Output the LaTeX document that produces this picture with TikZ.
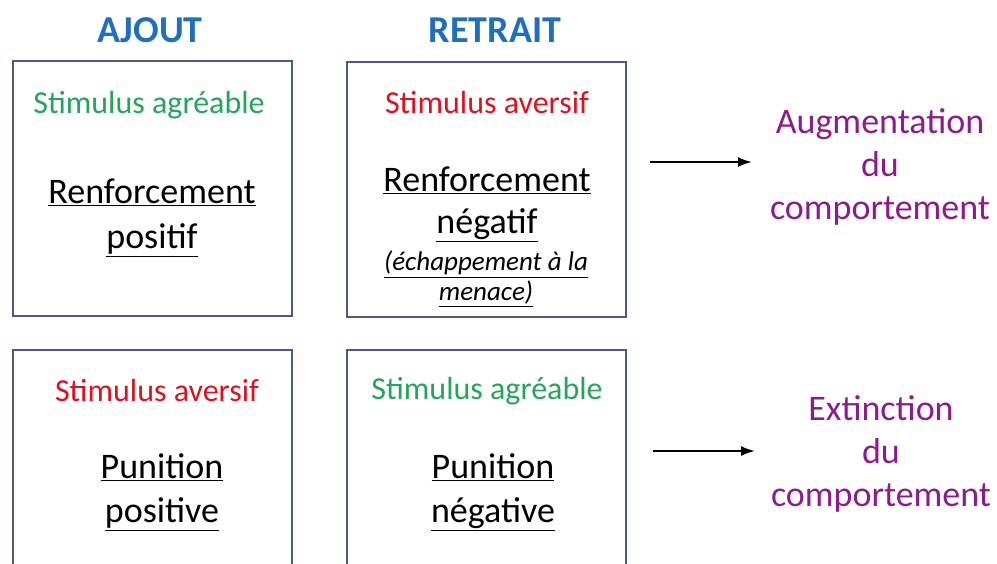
\documentclass[tikz,border=0pt]{standalone}
\usepackage{fontspec}
\usetikzlibrary{arrows.meta}
\setmainfont{Carlito}
\definecolor{titre}{HTML}{1F6FBF}
\definecolor{vert}{HTML}{22A659}
\definecolor{rouge}{HTML}{E0101E}
\definecolor{violet}{HTML}{8E1A8E}
\definecolor{cadre}{HTML}{465A8C}
\tikzset{
    boite/.style={draw=cadre, line width=2pt, minimum width=279pt, minimum height=255pt},
    entete/.style={text=titre, font=\fontsize{38}{44}\bfseries\selectfont},
    stim/.style={font=\fontsize{32}{38}\selectfont},
    type/.style={align=center, font=\fontsize{36}{44}\selectfont},
    effet/.style={align=center, text=violet, font=\fontsize{36}{43}\selectfont},
    fleche/.style={-{Latex[length=14pt, width=10pt]}, line width=2pt}
}
\begin{document}
\begin{tikzpicture}[x=1pt, y=-1pt]
    \useasboundingbox (0, 0) rectangle (997, 564);
    \clip (0, 0) rectangle (997, 564);
    % 先画两个标题
    \node [entete] (ajout)   at (150, 30) {AJOUT};
    \node [entete] (retrait) at (495, 30) {RETRAIT};
    % 四个方框
    \node [boite] (b1) at (152, 189) {};
    \node [boite] (b2) at (486.5, 190) {};
    \node [boite, minimum height=260pt] (b3) at (152, 480) {};
    \node [boite, minimum height=260pt] (b4) at (486.5, 480) {};
    % 方框里的文字
    \node [stim, text=vert]  (s1) at (149, 105) {Stimulus agréable};
    \node [type, font=\fontsize{36}{45}\selectfont] (r1) at (152, 218) {\underline{Renforcement}\\\underline{positif}};
    \node [stim, text=rouge] (s2) at (487, 103) {Stimulus aversif};
    \node [type, font=\fontsize{36}{42}\selectfont] (r2) at (487, 204) {\underline{Renforcement}\\\underline{négatif}};
    \node [align=center, font=\fontsize{27}{30}\itshape\selectfont] (e2) at (486, 279)
        {\underline{(échappement à la}\\\underline{menace)}};
    \node [stim, text=rouge] (s3) at (157, 391) {Stimulus aversif};
    \node [type] (p3) at (162, 492) {\underline{Punition}\\\underline{positive}};
    \node [stim, text=vert]  (s4) at (487, 391) {Stimulus agréable};
    \node [type] (p4) at (493, 492) {\underline{Punition}\\\underline{négative}};
    % 右边的结果和箭头
    \node [effet] (aug) at (880, 167) {Augmentation\\du\\comportement};
    \node [effet] (ext) at (881, 454) {Extinction\\du\\comportement};
    \coordinate (f1) at (650, 162);
    \coordinate (g1) at (752, 162);
    \coordinate (f2) at (653, 451);
    \coordinate (g2) at (755, 451);
    \draw [fleche] (f1) -- (g1);
    \draw [fleche] (f2) -- (g2);
\end{tikzpicture}
\end{document}
